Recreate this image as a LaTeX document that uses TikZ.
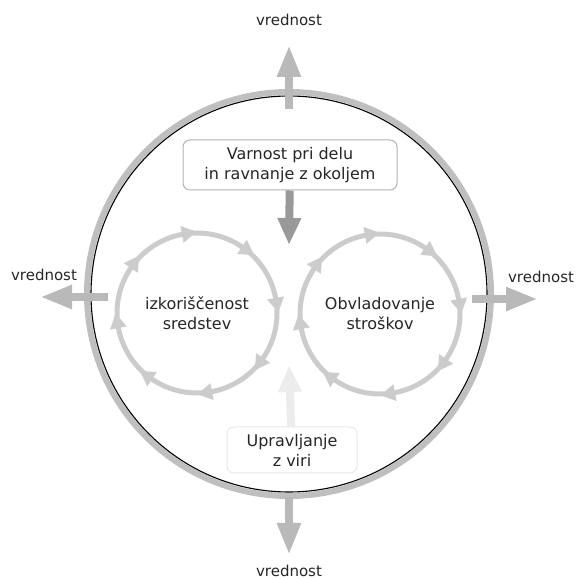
\documentclass[tikz,border=0pt]{standalone}
\usepackage{fontspec}
\setmainfont{DejaVu Sans}
\usetikzlibrary{arrows.meta,decorations.markings,positioning}

\begin{document}
\begin{tikzpicture}[x=1pt,y=1pt,
		txt/.style={font=\fontsize{16}{20}\selectfont, text=black!85, align=center},
		valtxt/.style={txt, font=\fontsize{15}{18}\selectfont},
		valarrow/.style={gray!55, line width=8pt, -{Triangle[length=32pt,width=22pt]}},
		boxarrow/.style={line width=8pt, -{Triangle[length=27pt,width=22pt]}},
		labelbox/.style={txt, rounded corners=7pt, draw, line width=1pt},
		cyclestroke/.style={draw=gray!40, line width=5pt, postaction={decorate},
			decoration={markings, mark=between positions 0.03 and 1 step 0.125 with
				{\arrow{Triangle[reversed,length=15pt,width=16pt,color=gray!40]}}}}
	]
	\useasboundingbox (0,0) rectangle (576,579);
		\node[circle, minimum size=404pt, draw=gray!50, line width=6pt] (rim) at (289,285) {};
		\draw[black, line width=1.1pt] (rim.center) circle[radius=198pt];

		\node[valtxt] (vtop) at (289,559) {vrednost};
		\node[valtxt] (vbot) at (289,8) {vrednost};
		\node[valtxt] (vleft) at (44,304) {vrednost};
		\node[valtxt] (vright) at (541,302) {vrednost};
		\coordinate (ttip) at (289,534);
		\coordinate (btip) at (289,24);
		\coordinate (ltip) at (40,282);
		\coordinate (rtip) at (538,280);

		\draw[valarrow] ([yshift=-20pt]rim.north) -- (ttip);
		\draw[valarrow] ([yshift=2pt]rim.south) -- (btip);
		\draw[valarrow] ([shift={(24pt,-3pt)}]rim.west) -- (ltip);
		\draw[valarrow] ([shift={(-22pt,-5pt)}]rim.east) -- (rtip);

		\node[labelbox, draw=gray!60, minimum width=214pt, minimum height=50pt] (safety) at (290,414) {Varnost pri delu\\in ravnanje z okoljem};
		\node[labelbox, draw=gray!18, minimum width=130pt, minimum height=46pt] (resources) at (292,129) {Upravljanje\\z viri};
		\coordinate (sdown) at (289,334);
		\coordinate (rup) at (289,214);
		\draw[boxarrow, gray!80] (safety) -- (sdown);
		\draw[boxarrow, gray!15] (resources) -- (rup);

		\node[txt] (usage) at (197,266) {izkoriščenost\\sredstev};
		\node[txt] (costs) at (380,265) {Obvladovanje\\stroškov};
		\draw[cyclestroke] (usage.center) circle[radius=80pt];
		\draw[cyclestroke] (costs.center) circle[radius=80pt];
\end{tikzpicture}
\end{document}
